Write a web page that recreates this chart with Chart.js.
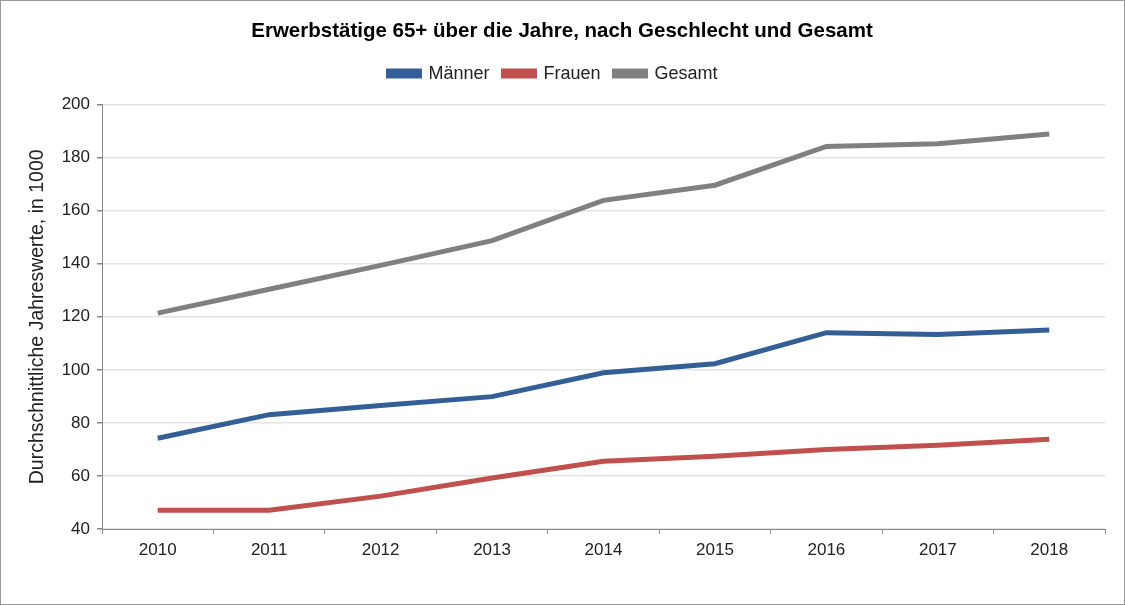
<!DOCTYPE html>
<html lang="de">
<head>
<meta charset="utf-8">
<script src="https://cdn.jsdelivr.net/npm/chart.js@4"></script>
<style>
  html, body { margin: 0; padding: 0; background: #fff; }
  #wrap { position: relative; width: 1123px; height: 603px; border: 1px solid #999; }
</style>
</head>
<body>
<div id="wrap"><canvas id="chart"></canvas></div>
<script>
const jahre = ['2010', '2011', '2012', '2013', '2014', '2015', '2016', '2017', '2018'];
const maenner = [74.2, 83.1, 86.6, 89.9, 98.9, 102.3, 114.0, 113.3, 115.0];
const frauen = [47.1, 47.1, 52.4, 59.2, 65.5, 67.4, 70.0, 71.6, 73.8];
const gesamt = [121.4, 130.4, 139.4, 148.7, 163.9, 169.6, 184.2, 185.2, 188.9];

const schrift = "'Liberation Sans', Arial, sans-serif";

function linie(label, data, farbe) {
    return {
        label, data,
        borderColor: farbe,
        backgroundColor: farbe,
        borderWidth: 5,
        pointRadius: 0,
        pointHoverRadius: 0,
        tension: 0,
        borderCapStyle: 'butt'
    };
}

// mehr Platz unter der Legende, Legende etwas nach links
const legendAbstand = {
    id: 'legendAbstand',
    beforeInit(chart) {
        const fit = chart.legend.fit;
        chart.legend.fit = function () {
            fit.call(this);
            this.height += 12;
        };
    },
    afterLayout(chart) {
        chart.legend.left -= 9;
        chart.legend.right -= 9;
    }
};

new Chart(document.getElementById('chart'), {
    type: 'line',
    data: {
        labels: jahre,
        datasets: [
            linie('Männer', maenner, '#335f96'),
            linie('Frauen', frauen, '#c0504d'),
            linie('Gesamt', gesamt, '#808080')
        ]
    },
    plugins: [legendAbstand],
    options: {
        responsive: true,
        maintainAspectRatio: false,
        animation: false,
        layout: { padding: { left: 9, right: 10, top: 0, bottom: 0 } },
        plugins: {
            title: {
                display: true,
                text: 'Erwerbstätige 65+ über die Jahre, nach Geschlecht und Gesamt',
                color: '#000',
                font: { family: schrift, size: 20.5, weight: 'bold' },
                padding: { top: 18, bottom: 7 }
            },
            legend: {
                position: 'top',
                labels: {
                    color: '#222',
                    font: { family: schrift, size: 18 },
                    boxWidth: 31,
                    boxHeight: 5,
                    padding: 14
                }
            },
            tooltip: { enabled: false }
        },
        scales: {
            x: {
                offset: true,
                afterFit: s => { s.height = 75; },
                grid: { display: true, drawOnChartArea: false, offset: true, tickLength: 5, color: '#999' },
                border: { color: '#888' },
                ticks: { color: '#222', font: { family: schrift, size: 17 }, padding: 6, maxRotation: 0 }
            },
            y: {
                min: 40, max: 200,
                afterFit: s => { s.width = 92; },
                ticks: { stepSize: 20, color: '#222', font: { family: schrift, size: 17 }, padding: 7 },
                grid: { color: '#e3e3e3', tickColor: '#888', tickLength: 5, lineWidth: 1.5 },
                border: { color: '#888' },
                title: {
                    display: true,
                    text: 'Durchschnittliche Jahreswerte, in 1000',
                    color: '#222',
                    font: { family: schrift, size: 19.5 },
                    padding: { top: 16, bottom: 0 }
                }
            },
            // leerer Rand rechts, damit der Titel mittig sitzt
            rand: {
                type: 'linear',
                axis: 'y',
                position: 'right',
                min: 40, max: 200,
                afterFit: s => { s.width = 9; },
                ticks: { display: false },
                grid: { display: false },
                border: { display: false }
            }
        }
    }
});
</script>
</body>
</html>
